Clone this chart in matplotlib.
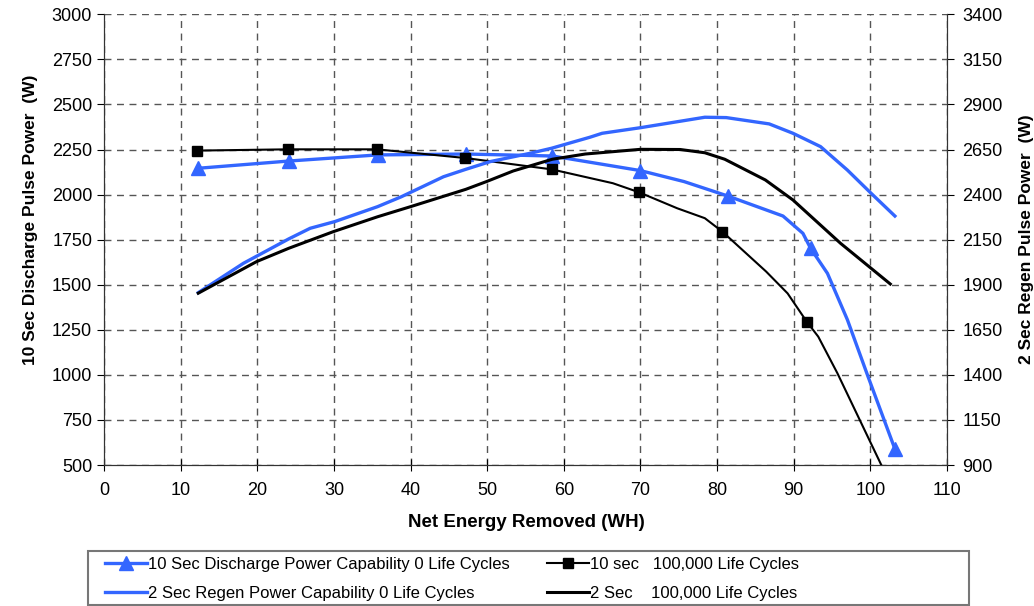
import matplotlib
matplotlib.use("Agg")
import matplotlib.pyplot as plt
from matplotlib.patches import Rectangle
import numpy as np

plt.rcParams['font.family'] = ['Liberation Sans', 'DejaVu Sans']

# 10 Sec Discharge Power Capability, 0 life cycles (left axis)
dis0_x = [12.3, 24.1, 35.7, 47.2, 58.5, 70.0, 75.7, 81.4, 88.6, 91.2, 92.2, 94.4, 97.0, 99.7, 103.2]
dis0_y = [2146, 2186, 2220, 2225, 2214, 2133, 2072, 1992, 1881, 1785, 1702, 1563, 1306, 990, 589]
dis0_mark = [0, 1, 2, 3, 4, 5, 7, 10, 14]

# 10 sec, 100,000 life cycles (left axis)
dis100_x = [12.2, 24.0, 35.6, 47.1, 58.4, 66.4, 69.8, 74.8, 78.4, 80.7, 86.4, 89.2, 91.7, 93.2, 95.7, 101.9]
dis100_y = [2244, 2251, 2251, 2203, 2140, 2063, 2013, 1924, 1869, 1794, 1573, 1452, 1295, 1212, 1009, 458]
dis100_mark = [0, 1, 2, 3, 4, 6, 9, 12]

# 2 Sec Regen Power Capability, 0 life cycles (right axis)
reg0_x = [12.3, 18.2, 24.1, 26.9, 30.1, 35.7, 38.8, 44.3, 47.2, 50.4, 55.6, 58.4, 63.4, 65.0,
          70.0, 78.4, 81.2, 86.8, 89.9, 93.5, 97.0, 100.1, 103.2]
reg0_y = [1856, 2019, 2154, 2213, 2250, 2333, 2388, 2499, 2540, 2583, 2629, 2657, 2718, 2740,
          2771, 2829, 2827, 2792, 2740, 2666, 2536, 2407, 2281]

# 2 Sec, 100,000 life cycles (right axis)
reg100_x = [12.3, 19.9, 24.1, 29.9, 35.7, 40.0, 47.2, 49.9, 53.4, 58.5, 62.8, 70.0, 75.2, 78.4,
            81.0, 86.3, 89.9, 96.1, 102.6]
reg100_y = [1853, 2028, 2102, 2194, 2277, 2333, 2429, 2472, 2531, 2596, 2625, 2651, 2650, 2632,
            2596, 2481, 2370, 2130, 1904]

blue = '#3366ff'
W, H = 1034, 606

fig = plt.figure(figsize=(10.34, 6.06), dpi=100)
ax = fig.add_axes([104 / W, 1 - 465 / H, 843 / W, 450.7 / H])
ax2 = ax.twinx()

h1, = ax.plot(dis0_x, dis0_y, color=blue, lw=2.4, marker='^', ms=10,
              markevery=dis0_mark, label='10 Sec Discharge Power Capability 0 Life Cycles', zorder=3)
h2, = ax.plot(dis100_x, dis100_y, color='black', lw=1.5, marker='s', ms=7,
              markevery=dis100_mark, label='10 sec   100,000 Life Cycles', zorder=3)
h3, = ax2.plot(reg0_x, reg0_y, color=blue, lw=2.4, label='2 Sec Regen Power Capability 0 Life Cycles')
h4, = ax2.plot(reg100_x, reg100_y, color='black', lw=2.2, label='2 Sec    100,000 Life Cycles')

ax.set_xlim(0, 110)
ax.set_ylim(500, 3000)
ax2.set_ylim(900, 3400)
ax.set_xticks(np.arange(0, 111, 10))
ax.set_yticks(np.arange(500, 3001, 250))
ax2.set_yticks(np.arange(900, 3401, 250))

ax.grid(True, color='#555555', ls=(0, (5, 4)), lw=1)
ax.set_axisbelow(True)

for a in (ax, ax2):
    a.spines['top'].set_visible(False)
    for s in a.spines.values():
        s.set_color('#333333')
ax.tick_params(axis='x', direction='inout', length=8, labelsize=13, pad=8)
ax.tick_params(axis='y', direction='out', length=5, labelsize=13)
ax2.tick_params(axis='y', direction='out', length=5, labelsize=13, pad=6)

ax.set_xlabel('Net Energy Removed (WH)', fontsize=13.5, fontweight='bold')
ax.set_ylabel('10 Sec Discharge Pulse Power  (W)', fontsize=12.5, fontweight='bold')
ax2.set_ylabel('2 Sec Regen Pulse Power  (W)', fontsize=12.5, fontweight='bold')
ax.xaxis.set_label_coords(0.5006, -0.108)
ax.yaxis.set_label_coords(-0.078, 0.544)
ax2.yaxis.set_label_coords(1.085, 0.5)

# legend: box plus two columns placed separately
fig.add_artist(Rectangle((87.5 / W, 1.5 / H), (969 - 87.5) / W, (605 - 551.5) / H,
                         transform=fig.transFigure, fill=False, ec='#777777', lw=1.5))
leg_kw = dict(loc='upper left', frameon=False, fontsize=12, handlelength=2.5,
              handletextpad=0.1, borderpad=0, borderaxespad=0, labelspacing=0.85)
fig.legend(handles=[h1, h3], bbox_to_anchor=(105 / W, 1 - 557 / H), **leg_kw)
fig.legend(handles=[h2, h4], bbox_to_anchor=(547 / W, 1 - 557 / H), **leg_kw)

fig.savefig('out.png', dpi=100)
